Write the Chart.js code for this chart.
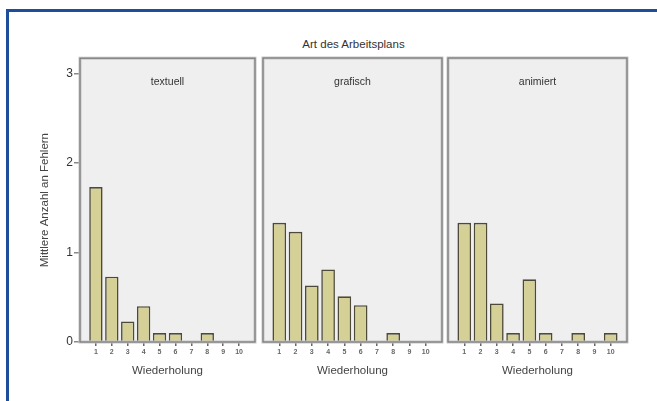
<!DOCTYPE html>
<html><head><meta charset="utf-8">
<script src="https://cdn.jsdelivr.net/npm/chart.js@4"></script>
<style>
html,body{margin:0;padding:0;background:#fff;}
#wrap{position:relative;width:657px;height:401px;overflow:hidden;background:#fff;}
#frame{position:absolute;left:6px;top:9px;width:700px;height:500px;border-left:3px solid #1d4e9b;border-top:3px solid #1d4e9b;}
.box{position:absolute;}
#title{position:absolute;left:80px;width:547px;top:38px;text-align:center;font-size:11.5px;font-family:'Liberation Sans',Arial,sans-serif;color:#333;}
</style>
</head><body>
<div id="wrap">
  <div id="frame"></div>
  <div id="title">Art des Arbeitsplans</div>
  <div class="box" style="left:10px;top:50px;width:247px;height:340px"><canvas id="c1" width="247" height="340"></canvas></div>
  <div class="box" style="left:258px;top:50px;width:186px;height:340px"><canvas id="c2" width="186" height="340"></canvas></div>
  <div class="box" style="left:443px;top:50px;width:186px;height:340px"><canvas id="c3" width="186" height="340"></canvas></div>
</div>
<script>
const repetitions = ['1','2','3','4','5','6','7','8','9','10'];
const groups = ['textuell','grafisch','animiert'];
const textuell = [1.73,0.73,0.23,0.40,0.10,0.10,0,0.10,0,0];
const grafisch = [1.33,1.23,0.63,0.81,0.51,0.41,0,0.10,0,0];
const animiert = [1.33,1.33,0.43,0.10,0.70,0.10,0,0.10,0,0.10];
const yTicks = [0,1,2,3];
const yMax = 3.17;
const yTitle = 'Mittlere Anzahl an Fehlern';
const xTitle = 'Wiederholung';

const FONT = "'Liberation Sans',Arial,sans-serif";
Chart.defaults.font.family = FONT;
Chart.defaults.color = '#444';

const panelPlugin = {
  id: 'panel',
  beforeDraw(chart, args, opts) {
    const {ctx, chartArea: a} = chart;
    ctx.save();
    ctx.fillStyle = '#efefef';
    ctx.fillRect(a.left, a.top, a.right - a.left, a.bottom - a.top);
    ctx.fillStyle = '#333';
    ctx.font = '10.5px ' + FONT;
    ctx.textAlign = 'center';
    ctx.textBaseline = 'middle';
    ctx.fillText(opts.label, (a.left + a.right) / 2, a.top + 24);
    ctx.restore();
  },
  afterDraw(chart) {
    const {ctx, chartArea: a} = chart;
    ctx.save();
    ctx.strokeStyle = '#c6c6c6';
    ctx.lineWidth = 3;
    ctx.strokeRect(a.left, a.top, a.right - a.left, a.bottom - a.top);
    ctx.strokeStyle = '#7a7a7a';
    ctx.lineWidth = 1.2;
    ctx.strokeRect(a.left, a.top, a.right - a.left, a.bottom - a.top);
    ctx.restore();
  }
};

function makeChart(id, label, values, showY, padding) {
  const labels = [''].concat(repetitions, ['']);
  const data = [null].concat(values, [null]);
  return new Chart(document.getElementById(id), {
    type: 'bar',
    data: {
      labels: labels,
      datasets: [{
        data: data,
        backgroundColor: '#d5d196',
        borderColor: '#4d4a3a',
        borderWidth: 1.6,
        categoryPercentage: 1,
        barPercentage: 0.84
      }]
    },
    plugins: [panelPlugin],
    options: {
      responsive: false,
      animation: false,
      devicePixelRatio: 1,
      layout: { padding: padding },
      plugins: { legend: {display: false}, tooltip: {enabled: false}, title: {display: false}, panel: {label: label} },
      scales: {
        x: {
          type: 'category',
          offset: false,
          afterFit: s => { s.height = 48; },
          grid: {
            offset: false,
            drawOnChartArea: false,
            drawTicks: true,
            tickLength: 4,
            tickColor: c => (c.index === 0 || c.index === labels.length - 1) ? 'rgba(0,0,0,0)' : '#666',
            lineWidth: 1.5
          },
          border: {display: false},
          ticks: { font: {size: 7, weight: 'bold'}, color: '#666', padding: 2, maxRotation: 0, autoSkip: false },
          title: { display: true, text: xTitle, font: {size: 11.5}, color: '#444', padding: {top: 0, bottom: 12} }
        },
        y: {
          display: showY,
          min: 0,
          max: yMax,
          afterFit: s => { if (showY) s.width = 70; },
          afterBuildTicks: s => { s.ticks = yTicks.map(v => ({value: v})); },
          grid: { drawOnChartArea: false, drawTicks: true, tickLength: 6, tickColor: '#888', lineWidth: 1.5 },
          border: {display: false},
          ticks: { font: {size: 12}, color: '#333', padding: 1 },
          title: { display: true, text: yTitle, font: {size: 11.5}, color: '#444', padding: {top: 28, bottom: 0} }
        }
      }
    }
  });
}

makeChart('c1', groups[0], textuell, true, {top: 8, right: 2, left: 0, bottom: 0});
makeChart('c2', groups[1], grafisch, false, {top: 8, right: 2, left: 5, bottom: 0});
makeChart('c3', groups[2], animiert, false, {top: 8, right: 2, left: 5, bottom: 0});
</script>
</body></html>
